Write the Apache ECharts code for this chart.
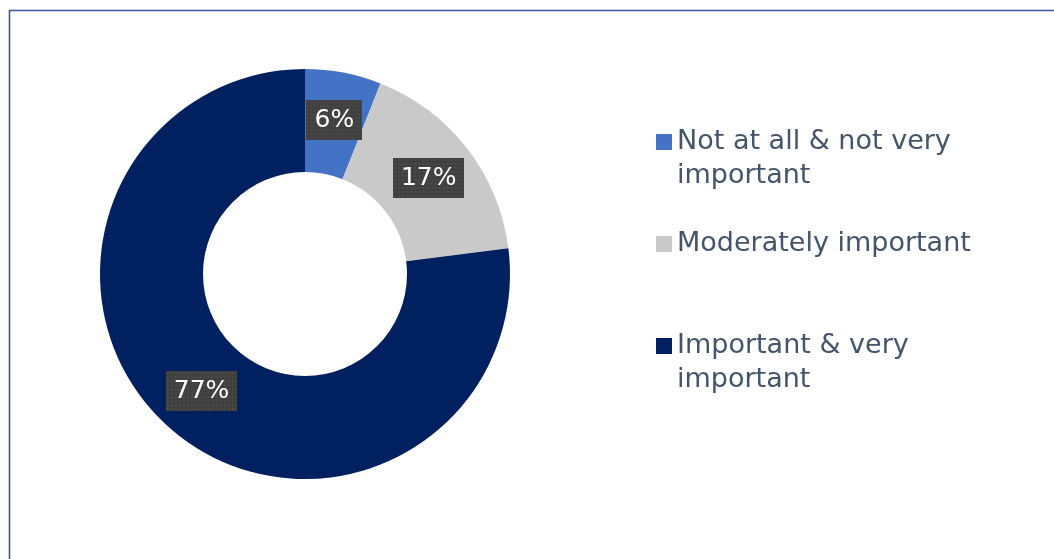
<!DOCTYPE html>
<html>
<head>
<meta charset="utf-8">
<script src="https://cdn.jsdelivr.net/npm/echarts@6/dist/echarts.min.js"></script>
<style>
  html, body { margin: 0; padding: 0; background: #ffffff; }
  #chart { width: 1054px; height: 559px; }
</style>
</head>
<body>
<div id="chart"></div>
<script>
// Share of respondents by importance rating (percent)
const categories = [
  'Not at all & not very\nimportant',
  'Moderately important',
  'Important & very\nimportant'
];
const values = [6, 17, 77];
const colors = ['#4472C4', '#C9C9C9', '#002060'];

// Dotted dark texture for the value badges
function makeTexture(w, h) {
  const c = document.createElement('canvas');
  c.width = w; c.height = h;
  const ctx = c.getContext('2d');
  ctx.fillStyle = '#404040';
  ctx.fillRect(0, 0, w, h);
  ctx.fillStyle = '#545454';
  for (let y = 1; y < h; y += 4) {
    for (let x = 1; x < w; x += 4) {
      ctx.fillRect(x, y, 1.5, 1.5);
    }
  }
  return c;
}
const badge = makeTexture(70, 40);

const chart = echarts.init(document.getElementById('chart'), null, { renderer: 'canvas' });

const textColor = '#44546A';
const lineH = 34;

chart.setOption({
  animation: false,
  backgroundColor: '#ffffff',
  graphic: [{
    type: 'rect',
    shape: { x: 9.5, y: 10.5, width: 1100, height: 600 },
    style: { fill: 'none', stroke: '#3A55A8', lineWidth: 1.6 },
    silent: true
  }],
  legend: {
    orient: 'vertical',
    left: 656,
    top: 91,
    padding: 0,
    itemGap: 34,
    itemWidth: 16,
    itemHeight: 16,
    icon: 'rect',
    // keep the swatch level with the first line of a wrapped name
    formatter: function (name) {
      return name.indexOf('\n') >= 0 ? '\n' + name : name;
    },
    textStyle: {
      fontFamily: 'DejaVu Sans',
      fontSize: 27,
      color: textColor,
      lineHeight: lineH
    },
    data: categories
  },
  series: [{
    type: 'pie',
    center: [305, 274],
    radius: [102, 205],
    startAngle: 90,
    clockwise: true,
    avoidLabelOverlap: false,
    labelLine: { show: false },
    label: {
      show: true,
      position: 'inside',
      formatter: '{c}%',
      fontFamily: 'DejaVu Sans',
      fontSize: 25,
      color: '#ffffff',
      lineHeight: 24,
      padding: [9, 8, 7, 8],
      backgroundColor: { image: badge }
    },
    itemStyle: { borderWidth: 0 },
    emphasis: { disabled: true },
    data: categories.map(function (name, i) {
      return { name: name, value: values[i], itemStyle: { color: colors[i] } };
    })
  }]
});
</script>
</body>
</html>
